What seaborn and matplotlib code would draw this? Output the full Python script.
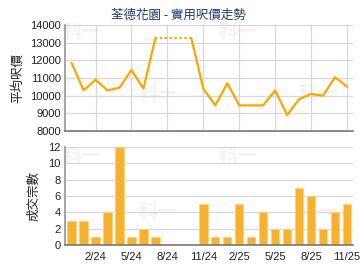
import numpy as np
import pandas as pd
import matplotlib
matplotlib.use("Agg")
import matplotlib.pyplot as plt
import seaborn as sns

months = ["12/23", "1/24", "2/24", "3/24", "4/24", "5/24", "6/24", "7/24", "8/24", "9/24",
          "10/24", "11/24", "12/24", "1/25", "2/25", "3/25", "4/25", "5/25", "6/25", "7/25",
          "8/25", "9/25", "10/25", "11/25"]
price = [11850, 10300, 10900, 10300, 10450, 11450, 10400, 13250, np.nan, np.nan,
         13250, 10400, 9450, 10700, 9450, 9450, 9450, 10300, 8900, 9800,
         10100, 10000, 11050, 10500]
deals = [3, 3, 1, 4, 12, 1, 2, 1, 0, 0, 0, 5, 1, 1, 5, 1, 4, 2, 2, 7, 6, 2, 4, 5]
tick_labels = ["2/24", "5/24", "8/24", "11/24", "2/25", "5/25", "8/25", "11/25"]
title = "荃德花園 - 實用呎價走勢"

sns.set_theme(style="white")
plt.rcParams['font.family'] = ['Liberation Sans', 'Noto Sans CJK TC', 'DejaVu Sans']

df = pd.DataFrame({"month": months, "idx": np.arange(len(months)), "price": price, "deals": deals})
tick_pos = [months.index(m) for m in tick_labels]

fig = plt.figure(figsize=(3.6, 2.7), dpi=100)
W, H = 360, 270
ax1 = fig.add_axes([65 / W, 1 - 131 / H, 288 / W, 106 / H])
ax2 = fig.add_axes([65 / W, 1 - 245 / H, 288 / W, 98 / H])

line_c = "#FFA500"
grid_c = "#d8d8d8"
xlim = (-0.55, 23.5)

# faint watermark (behind the axes)
for (x, y) in [(82, 33), (238, 33), (158, 95), (318, 95), (82, 157), (238, 157), (158, 212), (318, 212)]:
    fig.text(x / W, 1 - y / H, "科一", color="#f3f3f3", fontsize=14, fontweight="bold",
             family=['Noto Sans CJK TC'], ha="center", va="center", zorder=-5)

for ax in (ax1, ax2):
    ax.set_facecolor("none")
    ax.set_xlim(*xlim)
    ax.set_xticks(tick_pos)
    ax.grid(True, color=grid_c, linewidth=0.9)
    ax.set_axisbelow(True)
    for s in ("top", "right"):
        ax.spines[s].set_visible(False)
    ax.spines["left"].set_color("#999999")
    ax.spines["bottom"].set_color("#777777")
    ax.spines["bottom"].set_linewidth(1.2)
    ax.tick_params(axis="both", length=3, color="#999999", labelsize=8, pad=1,
                   labelcolor="#222222")
    ax.tick_params(axis="y", length=0, pad=3)

# top line chart
seg1 = df.iloc[:8]
seg2 = df.iloc[10:]
sns.lineplot(data=seg1, x="idx", y="price", ax=ax1, color=line_c, linewidth=1.6)
sns.lineplot(data=seg2, x="idx", y="price", ax=ax1, color=line_c, linewidth=1.6)
gap = df.iloc[[7, 10]]
sns.lineplot(data=gap, x="idx", y="price", ax=ax1, color=line_c, linewidth=1.6,
             linestyle=(0, (1, 1.2)))
ax1.set_ylim(8000, 14000)
ax1.set_yticks(range(8000, 14001, 1000))
ax1.set_xlim(*xlim)
ax1.set_xticks(tick_pos)
ax1.set_xticklabels([])
ax1.set_xlabel("")
ax1.set_ylabel("平均呎價", fontsize=9, family=['Noto Sans CJK TC'], labelpad=4, color="#222222")
fig.text(0.497, 1 - 15 / H, title, fontsize=9, family=['Noto Sans CJK TC'], color="#1a3d6b",
         ha="center", va="center")

# bottom bar chart
sns.barplot(data=df, x="month", y="deals", ax=ax2, color="#F7B12E", saturation=1,
            width=0.7, edgecolor="#FAD27E", linewidth=0.8, order=months)
ax2.set_ylim(0, 12)
ax2.set_yticks(range(0, 13, 2))
ax2.set_xlim(*xlim)
ax2.set_xticks(tick_pos)
ax2.set_xticklabels(tick_labels)
ax2.set_xlabel("")
ax2.set_ylabel("成交宗數", fontsize=9, family=['Noto Sans CJK TC'], labelpad=6, color="#222222")
ax2.tick_params(axis="x", pad=2)

fig.savefig("out.png", dpi=100)
